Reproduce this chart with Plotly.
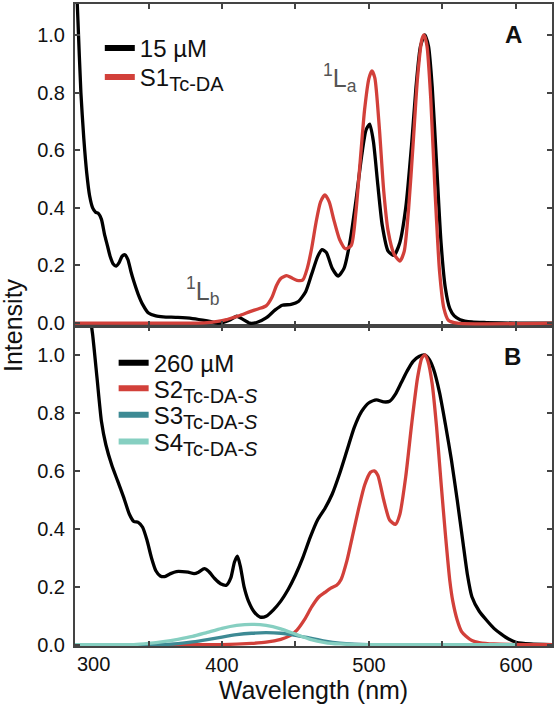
import plotly.graph_objects as go

# ---------------- data ----------------
# Panel A
a_black_x = [300, 302, 304, 306, 308, 310, 312, 314, 316, 318, 320, 322, 324, 326, 328, 330, 332, 334, 336, 338,
             340, 343, 346, 350, 355, 360, 370, 380, 390, 398, 405, 410, 414, 419, 424, 430, 436, 441, 447, 452,
             457, 461, 465, 468, 471, 475, 479, 483, 487, 491, 495, 498, 500.5, 503, 506, 509, 513, 517, 521, 525,
             529, 532, 535, 538, 540.5, 543, 546, 549, 552, 555, 558, 562, 570, 580, 600, 625]
a_black_y = [1.30, 1.05, 0.80, 0.64, 0.52, 0.44, 0.40, 0.385, 0.38, 0.36, 0.31, 0.27, 0.23, 0.205, 0.198, 0.21, 0.232, 0.237, 0.22, 0.18,
             0.145, 0.10, 0.065, 0.035, 0.025, 0.022, 0.02, 0.016, 0.008, 0.0, 0.01, 0.024, 0.014, 0.0, 0.003, 0.018, 0.045, 0.062, 0.065, 0.075,
             0.11, 0.17, 0.23, 0.255, 0.245, 0.19, 0.163, 0.19, 0.28, 0.42, 0.58, 0.67, 0.69, 0.63, 0.48, 0.34, 0.25, 0.235, 0.28, 0.40,
             0.62, 0.82, 0.96, 1.0, 0.96, 0.82, 0.55, 0.28, 0.12, 0.05, 0.025, 0.012, 0.004, 0.002, 0.0, 0.0]

a_red_x = [300, 380, 390, 397, 403, 408, 414, 419, 425, 430, 434, 437, 440, 444, 447, 451, 455, 458, 461, 464,
           467, 470, 473, 476, 480, 484, 488, 491, 494, 497, 500, 502, 504, 507, 510, 513, 517, 521, 524, 527,
           530, 533, 536, 537.5, 539.5, 542, 545, 548, 551, 554, 560, 625]
a_red_y = [0, 0, 0.002, 0.006, 0.012, 0.02, 0.03, 0.04, 0.05, 0.06, 0.09, 0.13, 0.155, 0.165, 0.158, 0.148, 0.15, 0.19, 0.26, 0.35,
           0.42, 0.445, 0.42, 0.36, 0.29, 0.258, 0.27, 0.38, 0.56, 0.74, 0.85, 0.875, 0.85, 0.68, 0.46, 0.32, 0.24, 0.215, 0.25, 0.40,
           0.62, 0.85, 0.985, 1.0, 0.96, 0.78, 0.45, 0.18, 0.05, 0.01, 0.0, 0.0]

# Panel B
b_black_x = [300, 305, 309, 312, 315, 318, 321, 325, 329, 333, 337, 340, 343, 346, 349, 352, 355, 358, 361, 365,
             369, 373, 377, 381, 384, 388, 391, 395, 399, 403, 406, 408.5, 410.5, 412.5, 415, 418, 422, 426, 430, 435,
             440, 445, 450, 455, 460, 465, 470, 475, 480, 485, 490, 495, 500, 505, 510, 514, 518, 522, 526, 530,
             534, 538, 541, 544, 548, 552, 556, 560, 564, 567, 570, 575, 580, 585, 590, 595, 600, 610, 625]
b_black_y = [1.6, 1.35, 1.18, 1.07, 0.92, 0.77, 0.69, 0.62, 0.565, 0.51, 0.45, 0.425, 0.422, 0.405, 0.36, 0.30, 0.255, 0.237, 0.235, 0.245,
             0.252, 0.252, 0.25, 0.245, 0.25, 0.262, 0.252, 0.228, 0.21, 0.205, 0.23, 0.285, 0.305, 0.27, 0.20, 0.15, 0.112, 0.095, 0.098, 0.12,
             0.15, 0.19, 0.24, 0.30, 0.37, 0.43, 0.47, 0.52, 0.59, 0.67, 0.75, 0.805, 0.835, 0.845, 0.838, 0.84, 0.865, 0.905, 0.945, 0.978,
             0.995, 1.0, 0.985, 0.95, 0.87, 0.76, 0.64, 0.50, 0.35, 0.24, 0.165, 0.115, 0.084, 0.056, 0.036, 0.019, 0.008, 0.002, 0.0]

b_red_x = [300, 400, 420, 430, 440, 446, 451, 456, 461, 466, 470, 474, 478, 481, 485, 489, 493, 497, 501, 503.5,
           506, 510, 514, 518, 521, 525, 529, 533, 536, 538, 540, 543, 546, 549, 552, 555, 557, 560, 563, 566,
           570, 575, 585, 625]
b_red_y = [0, 0, 0.004, 0.008, 0.018, 0.03, 0.05, 0.085, 0.13, 0.165, 0.18, 0.195, 0.205, 0.225, 0.29, 0.38, 0.47, 0.55, 0.595, 0.60,
           0.585, 0.50, 0.43, 0.415, 0.45, 0.58, 0.76, 0.92, 0.99, 1.0, 0.98, 0.90, 0.75, 0.56, 0.38, 0.22, 0.15, 0.085, 0.045, 0.029,
           0.014, 0.007, 0.002, 0.0]

s3_x = [300, 360, 370, 380, 390, 400, 410, 420, 430, 440, 450, 460, 470, 480, 490, 500, 600]
s3_y = [0, 0, 0.003, 0.009, 0.017, 0.026, 0.034, 0.039, 0.041, 0.039, 0.032, 0.022, 0.012, 0.005, 0.0015, 0, 0]

s4_x = [300, 340, 350, 360, 370, 380, 390, 400, 410, 420, 430, 440, 450, 460, 470, 480, 490, 600]
s4_y = [0, 0, 0.004, 0.01, 0.018, 0.028, 0.042, 0.056, 0.066, 0.07, 0.066, 0.054, 0.036, 0.018, 0.007, 0.002, 0, 0]

x_tickvals = [400, 500, 600]
x_ticktext = ["400", "500", "600"]
x_minor_vals = [350, 450, 550]
y_tickvals = [0.0, 0.2, 0.4, 0.6, 0.8, 1.0]
y_ticktext = ["0.0", "0.2", "0.4", "0.6", "0.8", "1.0"]

# ---------------- styling ----------------
BLACK = "#000000"
RED = "#d2403a"
TEAL = "#3d8a94"
LTEAL = "#86cfc1"
AX = "#444444"
FONT = "Liberation Sans, Arial, Helvetica, sans-serif"
LW = 3.3

fig = go.Figure()


def sub(t):
    return "<sub><span style='font-size:20px'>" + t + "</span></sub>"


def curve(x, y, col, xa, ya):
    return go.Scatter(x=x, y=y, mode="lines", line=dict(color=col, width=LW, shape="spline", smoothing=0.6),
                      xaxis=xa, yaxis=ya, showlegend=False, hoverinfo="skip")


# panel A traces (x2/y2 = top)
fig.add_trace(curve(a_black_x, a_black_y, BLACK, "x2", "y2"))
fig.add_trace(curve(a_red_x, a_red_y, RED, "x2", "y2"))
# panel B traces
fig.add_trace(curve(b_black_x, b_black_y, BLACK, "x", "y"))
fig.add_trace(curve(b_red_x, b_red_y, RED, "x", "y"))
fig.add_trace(curve(s3_x, s3_y, TEAL, "x", "y"))
fig.add_trace(curve(s4_x, s4_y, LTEAL, "x", "y"))

# legend keys: one legend per entry so each row can be placed like the original
legend_entries = [
    ("15 µM", BLACK, "x2", "y2", 0.052, 0.9658),
    ("S1" + sub("Tc-DA"), RED, "x2", "y2", 0.052, 0.9206),
    ("260 µM", BLACK, "x", "y", 0.081, 0.4755),
    ("S2" + sub("Tc-DA-<i>S</i>"), RED, "x", "y", 0.081, 0.4360),
    ("S3" + sub("Tc-DA-<i>S</i>"), TEAL, "x", "y", 0.081, 0.3948),
    ("S4" + sub("Tc-DA-<i>S</i>"), LTEAL, "x", "y", 0.081, 0.3528),
]
legend_layout = {}
for i, (name, col, xa, ya, lx, ly) in enumerate(legend_entries):
    key = "legend" if i == 0 else "legend%d" % (i + 1)
    fig.add_trace(go.Scatter(x=[None], y=[None], mode="lines", name=name, line=dict(color=col, width=6),
                             xaxis=xa, yaxis=ya, legend=key))
    legend_layout[key] = dict(x=lx, y=ly, xanchor="left", yanchor="top",
                              bgcolor="rgba(0,0,0,0)", font=dict(family=FONT, size=24, color="#111"),
                              itemwidth=30)

axis_common = dict(showline=True, linecolor=AX, linewidth=2, mirror="ticks", ticks="inside", ticklen=5,
                   tickwidth=1.5, tickcolor=AX, showgrid=False, zeroline=False,
                   tickfont=dict(family=FONT, size=20, color="#111"))
x_minor = dict(tickvals=x_minor_vals, ticks="inside", ticklen=5, tickwidth=1.5, tickcolor=AX, showgrid=False)

SPLIT = 0.4984
fig.update_layout(
    width=556, height=708,
    margin=dict(l=75, r=3, t=2, b=62),
    paper_bgcolor="white", plot_bgcolor="white",
    font=dict(family=FONT, color="#111"),
    xaxis=dict(domain=[0, 1], anchor="y", range=[300, 624.5], tickvals=x_tickvals, ticktext=x_ticktext,
               minor=x_minor,
               title=dict(text="Wavelength (nm)", font=dict(family=FONT, size=25, color="#111"), standoff=6),
               **axis_common),
    xaxis2=dict(domain=[0, 1], anchor="y2", range=[300, 624.5], matches="x", tickvals=x_tickvals,
                minor=x_minor, showticklabels=False, **axis_common),
    yaxis=dict(domain=[0, SPLIT], anchor="x", range=[-0.005, 1.1], tickvals=y_tickvals, ticktext=y_ticktext,
               ticklabelstandoff=4, **axis_common),
    yaxis2=dict(domain=[SPLIT, 1], anchor="x2", range=[-0.01, 1.107], tickvals=y_tickvals, ticktext=y_ticktext,
                ticklabelstandoff=4, **axis_common),
    showlegend=True,
    **legend_layout,
)

annotations = [
    dict(text="<b>A</b>", x=598, y=1.002, xref="x2", yref="y2", showarrow=False,
         font=dict(family=FONT, size=24, color="#111")),
    dict(text="<b>B</b>", x=597.5, y=0.995, xref="x", yref="y", showarrow=False,
         font=dict(family=FONT, size=24, color="#111")),
    dict(text="<sup>1</sup>L<sub>a</sub>", x=480, y=0.85, xref="x2", yref="y2", showarrow=False,
         font=dict(family=FONT, size=25, color="#555")),
    dict(text="<sup>1</sup>L<sub>b</sub>", x=386.5, y=0.11, xref="x2", yref="y2", showarrow=False,
         font=dict(family=FONT, size=25, color="#555")),
    dict(text="300", x=300, y=0, xref="x", yref="paper", xanchor="left", yanchor="top", yshift=-5, showarrow=False,
         font=dict(family=FONT, size=20, color="#111")),
    dict(text="Intensity", x=0, y=0.5, xref="paper", yref="paper", xanchor="center", yanchor="middle",
         xshift=-62, textangle=-90, showarrow=False, font=dict(family=FONT, size=25, color="#111")),
]
fig.update_layout(annotations=annotations)

fig.write_html("out.html")
